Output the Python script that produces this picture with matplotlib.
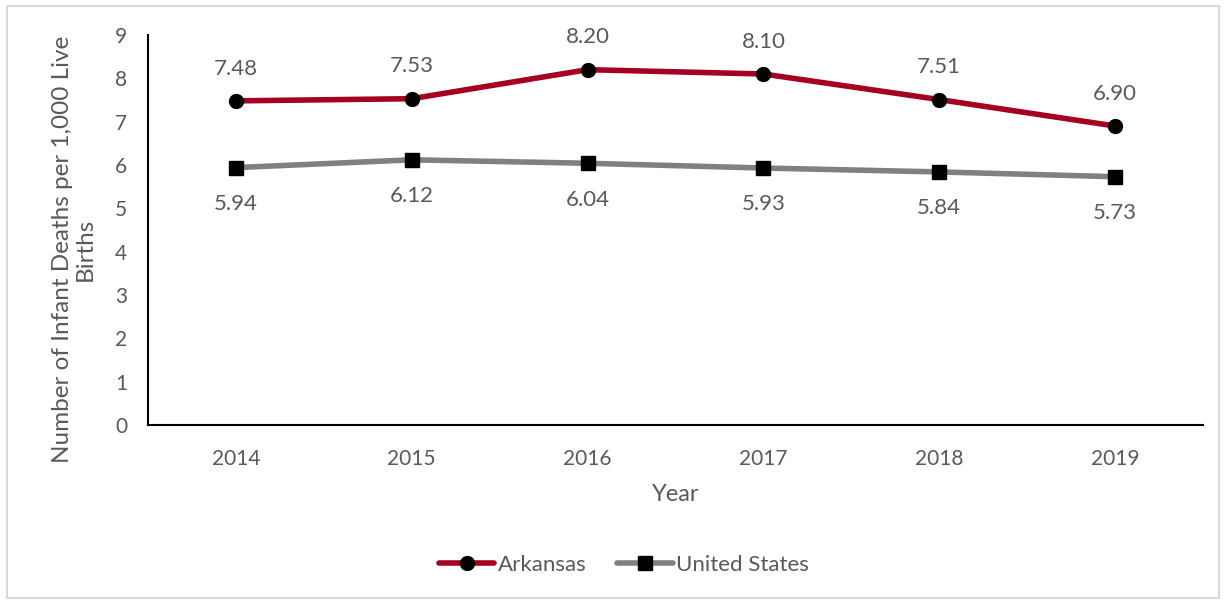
import matplotlib
matplotlib.use("Agg")
import matplotlib.pyplot as plt
from matplotlib.patches import Rectangle

years = ["2014", "2015", "2016", "2017", "2018", "2019"]
arkansas = [7.48, 7.53, 8.20, 8.10, 7.51, 6.90]
united_states = [5.94, 6.12, 6.04, 5.93, 5.84, 5.73]
yticks = [0, 1, 2, 3, 4, 5, 6, 7, 8, 9]

plt.rcParams['font.family'] = ['Lato', 'DejaVu Sans']
txt = '#595959'
red = '#A50021'
gray = '#808080'

W, H = 1226, 600
fig = plt.figure(figsize=(W/100, H/100), dpi=100)
ax = fig.add_axes([148/W, 1-425/H, (1203-148)/W, (425-35)/H])
x = list(range(len(years)))
ax.plot(x, arkansas, color=red, lw=4, marker='o', ms=10, mfc='black', mec='black',
        label='Arkansas', solid_capstyle='round')
ax.plot(x, united_states, color=gray, lw=4, marker='s', ms=10, mfc='black', mec='black',
        label='United States', solid_capstyle='round')
for i in x:
    ax.annotate(f"{arkansas[i]:.2f}", (i, arkansas[i]), xytext=(0, 16), textcoords='offset points',
                ha='center', va='bottom', fontsize=16, color=txt)
    ax.annotate(f"{united_states[i]:.2f}", (i, united_states[i]), xytext=(0, -19), textcoords='offset points',
                ha='center', va='top', fontsize=16, color=txt)
ax.set_xlim(-0.5, 5.5)
ax.set_ylim(0, 9)
ax.set_xticks(x)
ax.set_xticklabels(years)
ax.set_yticks(yticks)
ax.tick_params(length=0, labelsize=15, colors=txt, pad=15)
ax.tick_params(axis='x', pad=17)
for s in ['top', 'right']:
    ax.spines[s].set_visible(False)
for s in ['left', 'bottom']:
    ax.spines[s].set_linewidth(1.5)
    ax.spines[s].set_color('black')
ax.set_xlabel('Year', fontsize=17, color=txt, labelpad=11)
fig.text(74/W, 1-249/H, 'Number of Infant Deaths per 1,000 Live\nBirths', rotation=90,
         ha='center', va='center', multialignment='center', fontsize=17.5, color=txt,
         linespacing=1.08)
leg = ax.legend(loc='center', bbox_to_anchor=((624-148)/1055, -0.359), ncol=2, frameon=False,
                fontsize=16, handlelength=2.5, columnspacing=1.4, handletextpad=0.15)
for t in leg.get_texts():
    t.set_color(txt)
fig.patches.append(Rectangle((7/W, 0.003), 1212/W, 1-6/H-0.003, transform=fig.transFigure,
                             fill=False, edgecolor='#D9D9D9', lw=1.5))
fig.savefig('out.png', dpi=100)
